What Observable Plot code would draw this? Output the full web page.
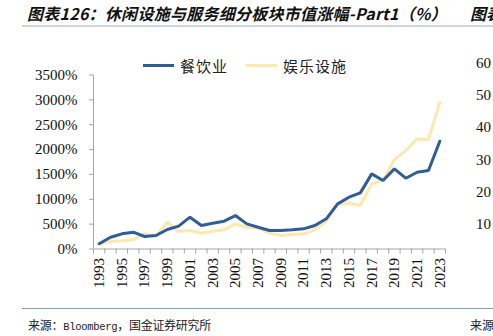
<!DOCTYPE html>
<html><head><meta charset="utf-8">
<script src="https://cdn.jsdelivr.net/npm/d3@7"></script>
<script src="https://cdn.jsdelivr.net/npm/@observablehq/plot@0.6"></script>
<style>
body{margin:0;background:#fff;}
#wrap{position:relative;width:493px;height:336px;overflow:hidden;font-family:"Noto Sans CJK SC",sans-serif;}
#wrap svg{position:absolute;left:0;top:0;}
.title{position:absolute;top:3px;line-height:20px;font-style:italic;font-weight:bold;font-size:16px;color:#111;white-space:nowrap;}
.hline{position:absolute;left:22px;right:0;}
.src{position:absolute;top:317px;line-height:16px;font-size:12px;color:#222;white-space:nowrap;}
.mono{font-family:"Liberation Mono",monospace;font-size:10.5px;}
.legend{position:absolute;top:55px;left:143px;display:flex;align-items:center;font-size:15px;color:#222;}
.legend .item{display:flex;align-items:center;margin-right:18px;}
.legend .sw{width:31px;height:3px;margin-right:6px;}
.legend .lab{letter-spacing:1px;}
.side{position:absolute;left:476px;font-family:"Liberation Serif",serif;font-size:15px;color:#111;}
</style></head><body><div id="wrap"></div>
<script>
const years = [1993,1994,1995,1996,1997,1998,1999,2000,2001,2002,2003,2004,2005,2006,2007,2008,2009,2010,2011,2012,2013,2014,2015,2016,2017,2018,2019,2020,2021,2022,2023];
const dining = [105,237,305,338,251,271,392,459,640,472,519,559,673,506,438,372,372,385,405,472,607,908,1042,1129,1511,1377,1612,1424,1544,1578,2167];
const leisure = [100,150,164,184,305,258,540,352,372,318,358,385,506,438,418,318,271,291,305,385,559,894,921,874,1310,1377,1799,1980,2215,2201,2950];
const seriesNames = ["餐饮业","娱乐设施"];
const seriesColors = ["#2f5d98","#fce8b0"];
const yTicks = [0,500,1000,1500,2000,2500,3000,3500];
const xLabelYears = [1993,1995,1997,1999,2001,2003,2005,2007,2009,2011,2013,2015,2017,2019,2021,2023];
const titleText = "图表126：休闲设施与服务细分板块市值涨幅-Part1（%）";
const sourceParts = ["来源：", "Bloomberg", "，国金证券研究所"];
const sideTicks = ["60","50","40","30","20","10"];

const data = [];
years.forEach((y,i)=>data.push({year:y,value:leisure[i],series:seriesNames[1]}));
years.forEach((y,i)=>data.push({year:y,value:dining[i],series:seriesNames[0]}));
const boundaries = years.map(y=>y-0.5).concat([years[years.length-1]+0.5]);

const plot = Plot.plot({
  width:493, height:336,
  marginLeft:93, marginRight:48, marginTop:74.5, marginBottom:87.5,
  style:{fontFamily:"Liberation Serif", fontSize:"15px", color:"#111", background:"transparent"},
  x:{type:"linear", domain:[years[0]-0.5, years[years.length-1]+0.5], label:null},
  y:{domain:[0,3500], label:null},
  color:{domain:seriesNames, range:seriesColors},
  marks:[
    Plot.axisX(boundaries,{tickSize:5, tickFormat:()=>"", stroke:"#a6a6a6"}),
    Plot.axisX(xLabelYears,{tickSize:0, tickRotate:-90, tickPadding:9, tickFormat:d=>String(d)}),
    Plot.axisY(yTicks,{tickSize:4, tickPadding:12, tickFormat:d=>d+"%", stroke:"#a6a6a6"}),
    Plot.ruleY([0],{stroke:"#a6a6a6"}),
    Plot.ruleX([years[0]-0.5],{stroke:"#a6a6a6"}),
    Plot.line(data,{x:"year", y:"value", z:"series", stroke:"series", strokeWidth:3, strokeLinejoin:"miter"})
  ]
});
const wrap = document.getElementById("wrap");
wrap.appendChild(plot);

function add(html){ wrap.insertAdjacentHTML("beforeend", html); return wrap.lastElementChild; }
function fit(el, target){
  const n = el.textContent.length;
  const w = el.getBoundingClientRect().width;
  el.style.letterSpacing = ((target - w) / n) + "px";
}
const t = add(`<div class="title" style="left:27px">${titleText}</div>`);
fit(t, 420);
add(`<div class="title" style="left:470px">图表</div>`);
add(`<div class="hline" style="top:25px;height:2px;background:#cbd6e2"></div>`);
add(`<div class="hline" style="top:308px;height:1px;background:#7f9fc2"></div>`);
const s = add(`<div class="src" style="left:28px">${sourceParts[0]}<span class="mono">${sourceParts[1]}</span>${sourceParts[2]}</div>`);
fit(s, 183);
add(`<div class="src" style="left:470px">来源</div>`);
add(`<div class="legend">${seriesNames.map((n,i)=>`<div class="item"><div class="sw" style="background:${seriesColors[i]}"></div><span class="lab">${n}</span></div>`).join("")}</div>`);
sideTicks.forEach((tk,i)=>add(`<div class="side" style="top:${55+i*32.2}px">${tk}</div>`));
</script>
</body></html>
